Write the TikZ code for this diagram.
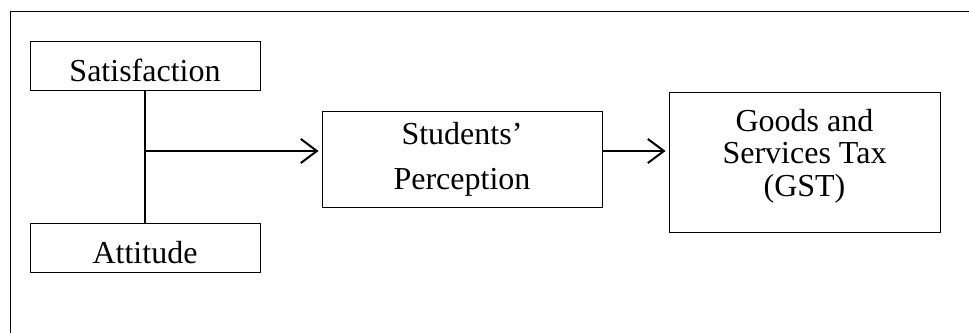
\documentclass[tikz,border=0pt]{standalone}
\usepackage{fontspec}
\setmainfont{Liberation Serif}
\usetikzlibrary{arrows.meta}

\tikzset{
box/.style = {draw, line width=1pt, inner sep=0pt, align=center},
onebox/.style = {box, minimum width=230pt, minimum height=49pt, text height=31pt, text depth=0pt, font=\fontsize{32}{30}\selectfont},
link/.style = {line width=2pt, shorten >=3pt, -{Straight Barb[length=16pt,width=24pt,line width=2pt]}}
}

\begin{document}
\begin{tikzpicture}[x=1pt,y=-1pt]

\useasboundingbox (0,0) rectangle (969,332);
\clip (0,0) rectangle (969,332);
\draw[line width=1pt] (10,11) rectangle (990,350);

\node (sat) at (145,65.5) [onebox] {Satisfaction};
\node (att) at (145,247.5) [onebox] {Attitude};

\node (perc) at (462,159) [box, minimum width=280pt, minimum height=96pt, font=\fontsize{32}{45}\selectfont] {Students’\\Perception};
\node (gst) at (804.5,162) [box, minimum width=271pt, minimum height=140pt, text depth=19pt, font=\fontsize{32}{32.5}\selectfont] {Goods and\\Services Tax\\(GST)};

\coordinate (j) at (145,151);

\draw[line width=1.5pt] (sat) -- (att);
\draw[link] (j) -- (j -| perc.west);
\draw[link] (perc.east |- j) -- (gst.west |- j);

\end{tikzpicture}
\end{document}
